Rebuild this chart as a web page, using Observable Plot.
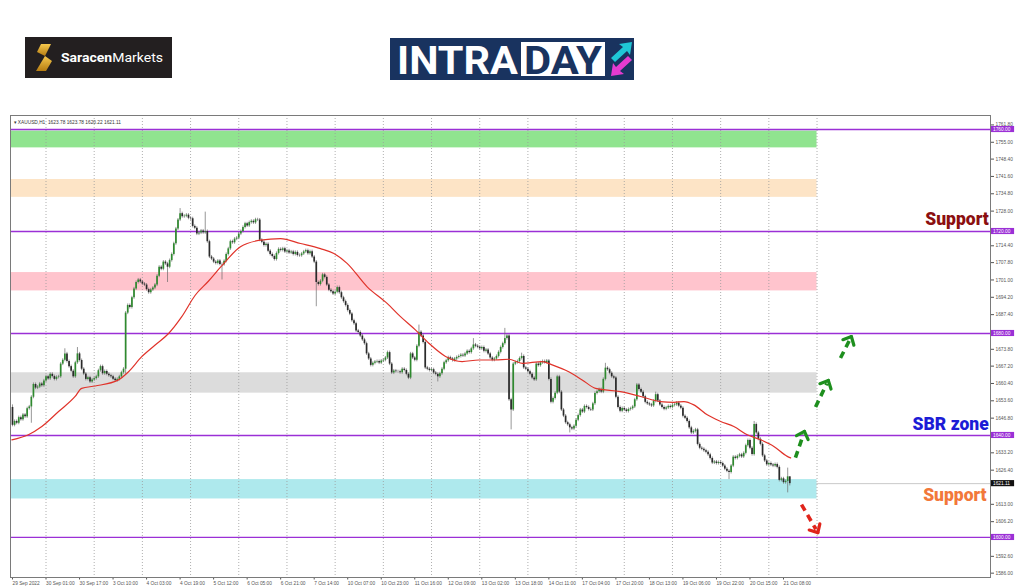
<!DOCTYPE html>
<html><head><meta charset="utf-8">
<script src="https://cdn.jsdelivr.net/npm/d3@7"></script>
<script src="https://cdn.jsdelivr.net/npm/@observablehq/plot@0.6"></script>
<style>
html,body{margin:0;padding:0;background:#fff;width:1024px;height:587px;overflow:hidden;position:relative;font-family:"DejaVu Sans",sans-serif}
#logo1{position:absolute;left:25px;top:37px}
#logo2{position:absolute;left:390px;top:30px}
#chart{position:absolute;left:0;top:110px}
</style></head><body>
<svg id="logo1" width="147" height="41" xmlns="http://www.w3.org/2000/svg">
  <defs><linearGradient id="gold" x1="0" y1="0" x2="0" y2="1"><stop offset="0" stop-color="#f6c84c"/><stop offset="1" stop-color="#b57c12"/></linearGradient></defs>
  <rect width="147" height="41" fill="#231f20"/>
  <path d="M16 7 L26 7 L20 19 L12 15 Z" fill="url(#gold)"/>
  <path d="M20 19 L27 24 L21 34 L11 34 Z" fill="url(#gold)"/>
  <text x="36" y="25" font-family="Roboto" font-size="13.5" fill="#fff" textLength="102" lengthAdjust="spacingAndGlyphs"><tspan font-weight="700">Saracen</tspan><tspan font-weight="400">Markets</tspan></text>
</svg>
<svg id="logo2" width="244" height="60" xmlns="http://www.w3.org/2000/svg">
  <rect y="8" width="244" height="42" fill="#19335f"/>
  <text x="7" y="44" font-family="Roboto" font-weight="700" font-size="38" fill="#fff" textLength="121" lengthAdjust="spacingAndGlyphs">INTRA</text>
  <rect x="131" y="12" width="84" height="34" fill="#fff"/>
  <text x="134" y="44" font-family="Roboto" font-weight="700" font-size="38" fill="#19335f" textLength="78" lengthAdjust="spacingAndGlyphs">DAY</text>
  <path d="M221 28 L233 17 L229 14 L242 12 L240 25 L237 21 L225 32 Z" fill="#1fc7d6"/>
  <path d="M242 30 L230 41 L234 44 L221 46 L223 33 L226 37 L238 26 Z" fill="#e53bd0"/>
</svg>
<div id="chart"></div>
<script>
// ---------- data ----------
const chartTitle = "\u25BE XAUUSD,H1  1623.78 1623.78 1620.22 1621.11";
const firstOpen = 1651.0;
const closes = [
1644.0,1645.5,1644.8,1647.0,1646.2,1648.0,1647.3,1650.5,1651.2,1655.0,
1660.0,1658.6,1659.0,1660.2,1659.5,1661.4,1663.0,1662.2,1664.0,1663.1,
1662.0,1662.8,1663.0,1668.0,1669.5,1672.0,1669.0,1667.0,1665.2,1663.0,
1668.5,1672.0,1669.4,1666.0,1664.1,1662.0,1662.6,1661.0,1661.8,1662.3,
1663.0,1665.4,1667.0,1664.2,1665.1,1664.0,1663.4,1663.0,1662.1,1661.5,
1662.0,1663.0,1664.6,1666.0,1688.0,1691.0,1690.2,1694.0,1697.5,1700.0,
1701.0,1700.2,1699.4,1699.0,1697.2,1696.0,1697.1,1697.8,1699.0,1702.5,
1706.0,1705.2,1708.0,1707.3,1706.0,1708.6,1711.0,1715.2,1721.0,1724.5,
1727.0,1725.8,1726.0,1726.4,1725.2,1725.0,1722.0,1721.3,1719.0,1719.4,
1720.2,1719.5,1720.0,1716.0,1710.0,1709.2,1708.0,1707.5,1708.4,1707.1,
1707.0,1708.3,1711.0,1713.2,1716.0,1715.6,1717.0,1717.4,1719.0,1720.0,
1721.6,1723.0,1722.2,1723.5,1724.0,1723.4,1724.6,1724.5,1716.6,1715.8,
1714.5,1715.0,1712.3,1711.0,1710.2,1709.0,1711.4,1713.0,1712.6,1713.2,
1712.0,1712.4,1711.6,1712.0,1711.0,1711.8,1710.6,1710.5,1711.2,1712.0,
1712.5,1711.3,1712.1,1710.0,1708.0,1700.0,1699.2,1700.5,1703.0,1702.0,
1699.0,1697.0,1696.4,1695.5,1696.2,1698.0,1696.0,1694.0,1692.5,1691.0,
1689.0,1687.6,1685.0,1683.8,1681.0,1680.4,1679.0,1677.5,1676.0,1672.0,
1670.0,1667.5,1668.3,1668.8,1669.0,1668.4,1669.2,1669.5,1670.4,1672.5,
1668.0,1664.5,1665.3,1665.0,1665.0,1664.6,1666.0,1665.5,1664.0,1662.5,
1672.0,1670.4,1669.5,1675.0,1680.5,1679.0,1676.5,1666.5,1666.0,1665.5,
1665.8,1664.5,1664.0,1663.0,1664.2,1666.0,1668.5,1669.3,1670.5,1670.0,
1669.4,1670.0,1670.6,1671.0,1671.5,1671.2,1672.0,1673.0,1672.5,1674.0,
1675.5,1675.0,1674.6,1674.0,1674.5,1673.0,1673.5,1672.0,1670.4,1669.5,
1670.0,1671.0,1672.6,1674.5,1676.0,1678.0,1679.0,1654.0,1650.0,1668.0,
1668.6,1669.0,1670.2,1671.0,1666.5,1666.0,1665.0,1664.0,1662.5,1661.8,
1668.0,1667.4,1668.5,1669.0,1668.6,1669.2,1662.0,1653.0,1654.5,1656.6,
1663.0,1657.0,1650.0,1647.6,1645.0,1644.2,1643.0,1642.5,1643.6,1646.0,
1647.8,1650.0,1649.2,1651.4,1651.0,1650.2,1650.0,1652.4,1656.5,1657.2,
1658.0,1657.0,1662.0,1666.4,1665.8,1664.4,1663.0,1662.5,1655.0,1651.0,
1649.5,1650.6,1650.0,1649.4,1650.2,1650.5,1651.2,1654.0,1659.8,1658.0,
1657.0,1655.2,1653.0,1652.4,1652.0,1651.6,1653.4,1656.0,1653.5,1652.0,
1651.0,1650.3,1650.8,1651.4,1651.0,1651.8,1652.0,1652.7,1651.5,1650.7,
1647.5,1646.8,1645.5,1643.0,1641.0,1641.6,1642.2,1636.5,1635.0,1634.6,
1634.0,1633.4,1632.4,1631.0,1629.2,1629.6,1629.0,1629.4,1629.0,1628.0,
1626.8,1626.0,1625.5,1628.0,1631.5,1631.0,1631.8,1632.4,1631.6,1633.0,
1636.0,1638.0,1635.0,1632.5,1644.3,1641.0,1638.5,1636.5,1632.0,1630.0,
1628.5,1629.0,1628.4,1628.0,1628.6,1627.5,1622.4,1623.0,1621.5,1622.0,
1623.78,1621.11
];
// notable wick extremes [bar, price]
const wickHighs = [[0,1652.0],[25,1674.0],[31,1674.5],[80,1729.0],[92,1727.6],[194,1683.3],[220,1678.0],[235,1682.0],[243,1672.3],[283,1668.3],[307,1657.0],[354,1645.5],[370,1627.2],[371,1623.78]];
const wickLows = [[9,1644.8],[54,1664.0],[74,1700.0],[100,1701.0],[145,1690.5],[203,1661.0],[238,1642.2],[266,1641.0],[342,1622.7],[370,1617.5],[371,1620.22]];
const wickPad = 0.6;
// moving average [bar, value]
const maPoints = [[-0.3,1638.3],[7.6,1640.3],[14,1643.5],[22,1649.4],[29.9,1655.3],[33,1658.5],[39.5,1659.4],[50.6,1661.8],[55.4,1665.0],[61.7,1670.9],[68.1,1675.5],[74.5,1680.0],[80.8,1686.6],[87.2,1695.0],[93.5,1700.5],[99.3,1706.0],[108.8,1714.0],[118.4,1716.6],[127.9,1717.2],[137.5,1715.3],[147,1713.3],[153.4,1711.4],[159.7,1707.5],[169.3,1698.3],[178.8,1691.8],[185.2,1686.6],[192.3,1681.4],[198.7,1676.2],[206.7,1671.0],[214.6,1669.0],[222.6,1669.6],[230.5,1669.6],[236.9,1669.9],[243.3,1668.3],[252.8,1669.0],[257.6,1667.7],[265.5,1665.0],[271.9,1661.8],[278.3,1658.5],[290.2,1657.2],[299.8,1655.3],[309.3,1653.3],[315.7,1653.0],[320.5,1653.3],[325.2,1652.0],[331.6,1648.1],[338,1645.5],[344.3,1643.5],[350.7,1640.3],[357.1,1638.3],[363.4,1635.7],[369.8,1631.8],[371.4,1631.2]];
const xLabels = ["29 Sep 2022","30 Sep 01:00","30 Sep 17:00","3 Oct 10:00","4 Oct 03:00","4 Oct 19:00","5 Oct 12:00","6 Oct 05:00","6 Oct 21:00","7 Oct 14:00","10 Oct 07:00","10 Oct 23:00","11 Oct 16:00","12 Oct 09:00","13 Oct 02:00","13 Oct 18:00","14 Oct 11:00","17 Oct 04:00","17 Oct 20:00","18 Oct 13:00","19 Oct 06:00","19 Oct 22:00","20 Oct 15:00","21 Oct 08:00"];
const xLabelBars = [0,16,32,48,64,80,96,112,128,144,160,176,192,208,224,240,256,272,288,304,320,336,352,368];
const gridBars = [16,39,62,85,108,131,154,177,200,223,246,269,292,315,338,361,384];
const yTicks = [1761.8,1755.0,1748.4,1741.6,1734.8,1728.0,1714.4,1707.8,1701.0,1694.2,1687.4,1673.8,1667.2,1660.4,1653.6,1646.8,1633.2,1626.4,1613.0,1606.2,1592.6,1586.0];
const levels = [1760,1720,1680,1640,1600];
const currentPrice = 1621.11;
const zoneEndBar = 384;
const zoneLo = [1752.8,1733.4,1696.7,1656.6,1615.1];
const zoneHi = [1759.4,1740.4,1703.9,1664.6,1622.7];
const zoneColors = ["#90e48f","#fde4c6","#ffc4cd","#dcdcdc","#aee9ed"];
const notes = [
  {text:"Support", bar:450.8, price:1724.6, color:"#8b0f10"},
  {text:"SBR zone", bar:447.8, price:1644.4, color:"#1c1cd6"},
  {text:"Support", bar:449.8, price:1616.6, color:"#f2783a"}
];
const upArrows = [[373.7,1631.3,378.0,1641.6],[383.3,1651.2,389.4,1661.6],[395.2,1670.4,400.4,1678.8]];
const downArrows = [[376.6,1612.9,384.4,1601.9]];

// ---------- build ----------
const hiMap = new Map(wickHighs), loMap = new Map(wickLows);
const bars = closes.map((c, i) => {
  const o = i === 0 ? firstOpen : closes[i - 1];
  const h = hiMap.has(i) ? hiMap.get(i) : Math.max(o, c) + wickPad;
  const l = loMap.has(i) ? loMap.get(i) : Math.min(o, c) - wickPad;
  return {i, o, c, h, l};
});
const W = 1024, H = 477, mL = 10, mR = 34, mT = 5, mB = 10;
const xMin = -0.95, xMax = 466.8, yMin = 1584.3, yMax = 1765.5;
const kx = (W - mL - mR) / (xMax - xMin), ky = (H - mT - mB) / (yMax - yMin);
const bull = "#2f8a2f", bear = "#2b2b2b", purple = "#9b30d6";

// chevron arrowheads: wings at the end of each arrow, sized in pixels
function wings(arrs, len, ang) {
  const out = [];
  for (const a of arrs) {
    const th = Math.atan2(-(a[3] - a[1]) * ky, (a[2] - a[0]) * kx);
    for (const s of [-1, 1]) {
      const t = th + s * ang;
      out.push({x1: a[2], y1: a[3], x2: a[2] - len * Math.cos(t) / kx, y2: a[3] + len * Math.sin(t) / ky});
    }
  }
  return out;
}
const shaft = (a) => ({x1: a[0], y1: a[1], x2: a[2] - (a[2] - a[0]) * 0.12, y2: a[3] - (a[3] - a[1]) * 0.12});

const zoneMarks = zoneLo.map((lo, k) => Plot.rect([k], {x1: xMin, x2: zoneEndBar, y1: lo, y2: zoneHi[k], fill: zoneColors[k]}));
const noteMarks = notes.map(n => Plot.text([n], {x: "bar", y: "price", text: "text", fill: n.color, fontSize: 17.5, fontWeight: 900, fontFamily: "Roboto"}));

const plot = Plot.plot({
  width: W, height: H,
  marginLeft: mL, marginRight: mR, marginTop: mT, marginBottom: mB,
  x: {type: "linear", domain: [xMin, xMax]},
  y: {type: "linear", domain: [yMin, yMax]},
  style: {fontFamily: "Liberation Sans", fontSize: "4.8px", color: "#444", background: "transparent"},
  marks: [
    Plot.ruleY([currentPrice], {stroke: "#c9c9c9", strokeWidth: 1}),
    ...zoneMarks,
    Plot.ruleX(gridBars, {stroke: "#9a9a9a", strokeDasharray: "1,2", strokeWidth: 0.8}),
    Plot.ruleY(levels, {stroke: purple, strokeWidth: 1.3}),
    Plot.ruleX(bars, {x: "i", y1: "l", y2: "h", stroke: "#6a6a6a", strokeWidth: 0.7}),
    Plot.ruleX(bars.filter(d => d.c >= d.o), {x: "i", y1: "o", y2: "c", stroke: bull, strokeWidth: 1.7}),
    Plot.ruleX(bars.filter(d => d.c < d.o), {x: "i", y1: "o", y2: "c", stroke: bear, strokeWidth: 1.7}),
    Plot.line(maPoints, {x: d => d[0], y: d => d[1], stroke: "#e0332a", strokeWidth: 1.2, curve: "monotone-x"}),
    Plot.link(upArrows.map(shaft), {x1: "x1", y1: "y1", x2: "x2", y2: "y2", stroke: "#1e8f1e", strokeWidth: 3.6, strokeDasharray: "7,5"}),
    Plot.link(wings(upArrows, 9, 0.75), {x1: "x1", y1: "y1", x2: "x2", y2: "y2", stroke: "#1e8f1e", strokeWidth: 3.2, strokeLinecap: "round"}),
    Plot.link(downArrows.map(shaft), {x1: "x1", y1: "y1", x2: "x2", y2: "y2", stroke: "#e0241b", strokeWidth: 3.6, strokeDasharray: "7,5"}),
    Plot.link(wings(downArrows, 9, 0.75), {x1: "x1", y1: "y1", x2: "x2", y2: "y2", stroke: "#e0241b", strokeWidth: 3.2, strokeLinecap: "round"}),
    ...noteMarks,
    Plot.text([chartTitle], {frameAnchor: "top-left", dx: 3, dy: 5, fontSize: 4.8, fill: "#333"}),
    Plot.axisY(yTicks, {anchor: "right", tickSize: 3, tickPadding: 2, tickFormat: d => d.toFixed(2), fontSize: 4.8, label: null, color: "#555"}),
    Plot.axisX(xLabelBars, {anchor: "bottom", tickSize: 2.5, tickPadding: 1.5, tickFormat: d => xLabels[xLabelBars.indexOf(d)], textAnchor: "start", fontSize: 4.8, label: null, color: "#555"}),
    Plot.rect(levels, {x1: xMax + 0.4, x2: xMax + 11.5, y1: d => d - 1.2, y2: d => d + 1.2, fill: purple}),
    Plot.text(levels, {x: xMax + 1.2, y: d => d, text: d => d.toFixed(2), textAnchor: "start", fill: "white", fontSize: 4.8}),
    Plot.rect([currentPrice], {x1: xMax + 0.4, x2: xMax + 11.5, y1: d => d - 1.2, y2: d => d + 1.2, fill: "#111"}),
    Plot.text([currentPrice], {x: xMax + 1.2, y: d => d, text: d => d.toFixed(2), textAnchor: "start", fill: "white", fontSize: 4.8}),
    Plot.frame({stroke: "#7a7a7a", strokeWidth: 1})
  ]
});
document.getElementById("chart").appendChild(plot);
</script>
</body></html>
